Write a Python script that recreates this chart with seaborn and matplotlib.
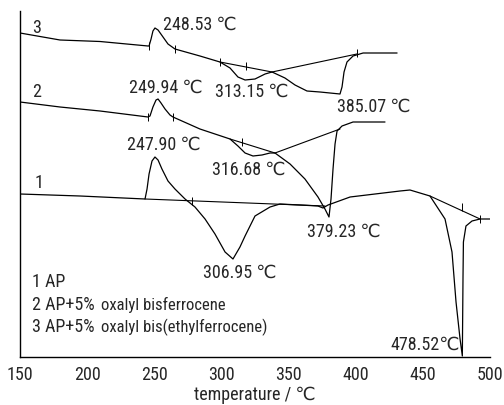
import matplotlib
matplotlib.use("Agg")
import matplotlib.pyplot as plt
import seaborn as sns
import pandas as pd

# DTA curves (temperature in degC, signal in arbitrary units, offsets included)
t1 = [150, 194.7, 243.1, 244.6, 246.1, 248.3, 250.5, 252.8, 255.7, 260.2, 265.4,
      272.9, 280.3, 287.8, 295.2, 302.7, 308.6, 313.8, 317.6, 325.0, 336.2, 343.6,
      358.5, 371.9, 375.6, 379.4, 395.8, 433.0, 440.4, 455.3, 466.5, 471.7, 474.7,
      477.7, 479.4, 479.9, 480.2, 482.1, 486.6, 492.6, 500]
s1 = [163, 161, 158, 168, 183, 196, 200, 197, 188, 176, 168,
      158, 150, 138, 123, 105, 98, 110, 121, 141, 150, 153,
      152, 151, 149, 152, 160, 166, 167, 161, 138, 105, 55,
      18, 1, 80, 115, 131, 136, 138, 138]

t2 = [150, 179.8, 209.6, 245.3, 246.8, 249.0, 251.3, 252.8, 255.0, 258.0, 261.7,
      263.9, 284.0, 306.4, 312.3, 317.6, 323.5, 330.2, 336.2, 339.9, 351.1, 362.2,
      371.9, 377.1, 380.1, 381.6, 383.1, 384.6, 386.1, 389.8, 398.0, 421.8]
s2 = [255, 250, 246, 240, 241, 250, 257, 258, 254, 248, 242,
      240, 228, 218, 211, 204, 201, 202, 204, 204, 193, 178,
      160, 148, 140, 158, 188, 213, 226, 231, 235, 235]

t3 = [150, 179.8, 209.6, 245.3, 246.1, 247.6, 249.0, 250.5, 252.8, 256.5, 260.2,
      265.4, 284.0, 298.9, 306.4, 312.3, 317.6, 325.0, 332.5, 337.7, 347.3, 354.8,
      363.7, 373.4, 388.3, 389.8, 391.3, 393.5, 398.0, 405.5, 430.8]
s3 = [324, 317, 315.5, 311, 311, 318, 326, 329, 327, 320, 313,
      308, 301, 295, 289, 280, 277, 278, 283, 285, 279, 272,
      266, 265, 263, 270, 285, 295, 301, 304, 304]

# baseline construction lines (start/end points)
base1 = [([243.1, 377.1], [158, 151]), ([455.3, 492.6], [161, 138])]
base2 = [([306.4, 339.9], [218, 204]), ([339.9, 388.3], [204, 228])]
base3 = [([298.9, 337.7], [295, 285]), ([337.7, 400.9], [285, 303])]

# small onset/end marks on the curves
mark_t = [246.1, 265.4, 298.9, 318.3, 401.0, 245.3, 263.9, 315.3, 278.1, 479.2, 492.6]
mark_s = [311, 308, 295, 291, 304, 240, 240, 215, 156, 150, 138]

peak_labels = ["248.53 \u2103", "249.94 \u2103", "313.15 \u2103", "385.07 \u2103",
               "247.90 \u2103", "316.68 \u2103", "379.23 \u2103", "306.95 \u2103",
               "478.52\u2103"]
peak_x = [256.5, 231.2, 295.2, 386.1, 229.7, 293.0, 363.7, 286.3, 425.5]
peak_y = [333, 270, 266, 251, 213, 188, 126, 85, 13]

curve_ids = ["3", "2", "1"]
curve_id_x = [158.9, 158.9, 161.2]
curve_id_y = [330, 266, 175]

legend_head = ["1 AP", "2 AP+5%", "3 AP+5%"]
legend_tail = ["", "oxalyl bisferrocene", "oxalyl bis(ethylferrocene)"]
legend_y = [76, 53, 31]

sns.set_style("white")
plt.rcParams['font.family'] = ['Roboto Condensed', 'DejaVu Sans']

fig = plt.figure(figsize=(5.04, 4.06), dpi=100)
ax = fig.add_axes([20 / 504, 48 / 406, 470 / 504, 346 / 406])

for t, s in [(t1, s1), (t2, s2), (t3, s3)]:
    df = pd.DataFrame({"T": t, "S": s})
    sns.lineplot(data=df, x="T", y="S", sort=False, estimator=None,
                 color="black", lw=0.9, ax=ax)
for bl in base1 + base2 + base3:
    ax.plot(bl[0], bl[1], color="black", lw=0.8)
ax.plot(mark_t, mark_s, ls="none", marker="|", ms=6, mew=0.7, color="black")

for lab, x, y in zip(peak_labels, peak_x, peak_y):
    ax.text(x, y, lab, fontsize=13, va="center", ha="left")
for lab, x, y in zip(curve_ids, curve_id_x, curve_id_y):
    ax.text(x, y, lab, fontsize=13, va="center", ha="left")
for head, tail, y in zip(legend_head, legend_tail, legend_y):
    ax.text(158.9, y, head, fontsize=13, va="center", ha="left")
    if tail:
        ax.text(210, y, tail, fontsize=12, va="center", ha="left")

ax.set_xlim(150, 500)
ax.set_ylim(0, 346)
ax.set_xticks(range(150, 501, 50))
ax.set_yticks([])
ax.set_ylabel("")
ax.set_xlabel("temperature / \u2103", fontsize=13, labelpad=1)
ax.tick_params(axis="x", direction="out", length=4, width=0.9, labelsize=13, pad=2)
sns.despine(ax=ax, top=True, right=True)
for sp in ["left", "bottom"]:
    ax.spines[sp].set_linewidth(1.0)
    ax.spines[sp].set_color("black")

fig.savefig("out.png", dpi=100)
